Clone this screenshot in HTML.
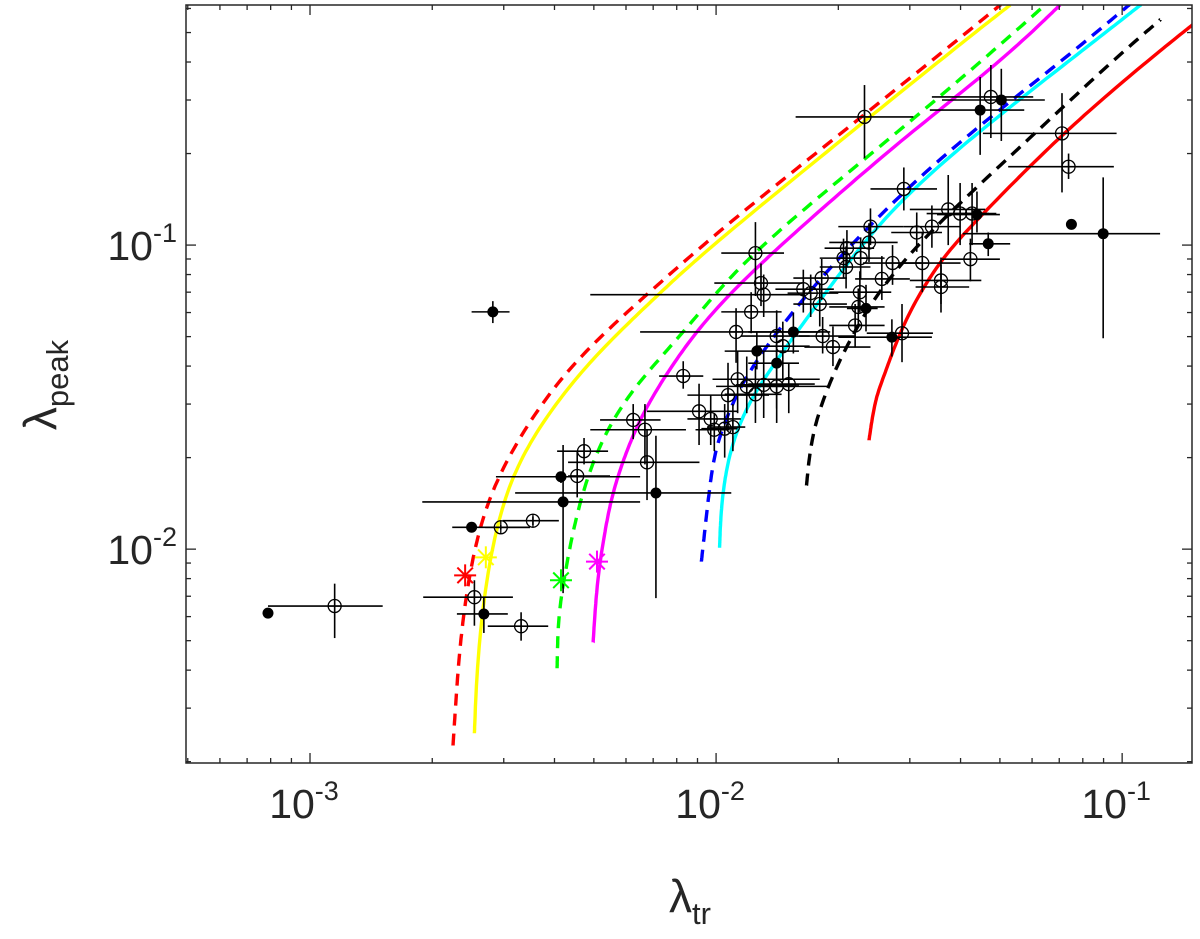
<!DOCTYPE html>
<html><head><meta charset="utf-8"><style>
html,body{margin:0;padding:0;background:#fff;}
svg{display:block;font-family:"Liberation Sans",sans-serif;}
</style></head><body>
<svg id="chart" width="1200" height="939" viewBox="0 0 1200 939" xmlns="http://www.w3.org/2000/svg">
<rect x="0" y="0" width="1200" height="939" fill="#fff"/>
<g id="curves"></g>
<g id="points"></g>
<g id="axes"></g>
<text x="690" y="912" font-size="46" text-anchor="middle" fill="#262626">λ<tspan font-size="31" dy="12">tr</tspan></text>
<text transform="translate(56,385) rotate(-90)" font-size="46" text-anchor="middle" fill="#262626">λ<tspan font-size="31" dy="12">peak</tspan></text>
</svg>
<script>
const xTicks = [0.001, 0.01, 0.1];
const xTickExp = ["-3", "-2", "-1"];
const yTicks = [0.01, 0.1];
const yTickExp = ["-2", "-1"];
const xDomain = [0.000495, 0.1486];
const yDomain = [0.00198, 0.616];

const curveNames = ["red-dashed","yellow-solid","green-dashed","magenta-solid","blue-dashed","cyan-solid","black-dashed","red-solid"];
const curveColors = ["#ff0000","#ffff00","#00ff00","#ff00ff","#0000ff","#00ffff","#000000","#ff0000"];
const curveDashed = [true,false,true,false,true,false,true,false];
const redDashX = [0.00225,0.00232,0.00241,0.00258,0.00294,0.00413,0.0065,0.0091,0.0123,0.0342,0.0501];
const redDashY = [0.00226,0.00431,0.00679,0.0113,0.0186,0.0379,0.0659,0.0977,0.137,0.406,0.616];
const yellowX = [0.00254,0.00258,0.00273,0.0031,0.00406,0.00518,0.00716,0.0091,0.0134,0.0356,0.053];
const yellowY = [0.00248,0.00431,0.00873,0.0178,0.0309,0.0451,0.0683,0.0917,0.141,0.406,0.616];
const greenX = [0.00406,0.00408,0.0042,0.00455,0.00518,0.00625,0.0083,0.011,0.0161,0.0284,0.0454,0.0646];
const greenY = [0.00406,0.00583,0.00773,0.0137,0.0228,0.0341,0.0514,0.0816,0.1285,0.239,0.406,0.616];
const magentaX = [0.00498,0.00509,0.00533,0.00557,0.00614,0.007,0.0091,0.0121,0.0161,0.0284,0.0509,0.0703];
const magentaY = [0.00494,0.0079,0.0116,0.0156,0.0228,0.0326,0.0545,0.0804,0.114,0.221,0.406,0.616];
const blueX = [0.0092,0.00956,0.0099,0.0108,0.0119,0.0161,0.0253,0.0399,0.0716,0.104];
const blueY = [0.0091,0.0145,0.0212,0.0287,0.0379,0.0659,0.127,0.221,0.406,0.616];
const cyanX = [0.0102,0.0103,0.0108,0.0118,0.0131,0.018,0.0264,0.0447,0.0745,0.111];
const cyanY = [0.0101,0.0145,0.0212,0.0287,0.0365,0.0659,0.130,0.239,0.406,0.616];
const blackX = [0.0167,0.0172,0.0194,0.022,0.0253,0.0336,0.0604,0.095,0.124];
const blackY = [0.0162,0.0246,0.0379,0.0525,0.0716,0.112,0.230,0.406,0.550];
const redSolidX = [0.0238,0.0246,0.0258,0.029,0.0356,0.0454,0.0716,0.116,0.149];
const redSolidY = [0.0228,0.0309,0.0365,0.0566,0.0900,0.127,0.235,0.406,0.530];

const starX = [0.00241,0.00271,0.00415,0.00509];
const starY = [0.0082,0.0094,0.0079,0.0091];
const starColors = ["#ff0000","#ffff00","#00ff00","#ff00ff"];

const ptX = [0.000788,0.00115,0.00282,0.00254,0.00268,0.00331,0.0025,0.00295,0.00354,0.0042,0.00415,0.00455,0.00473,0.00711,0.00676,0.00668,0.00625,0.0083,0.00908,0.0097,0.0099,0.0105,0.011,0.0107,0.0113,0.0119,0.0125,0.0131,0.0141,0.0151,0.0112,0.0126,0.0141,0.0141,0.0146,0.0155,0.0122,0.0131,0.0129,0.0125,0.0183,0.0194,0.0164,0.0171,0.018,0.0182,0.0206,0.021,0.0209,0.0227,0.0238,0.024,0.0226,0.022,0.0224,0.0234,0.0256,0.0272,0.0312,0.034,0.029,0.0373,0.0399,0.0427,0.0439,0.0322,0.0358,0.0358,0.0423,0.0468,0.0271,0.0287,0.0232,0.0475,0.0504,0.0447,0.0711,0.0738,0.075,0.0898];
const ptY = [0.00616,0.0065,0.0603,0.00695,0.00612,0.00558,0.0118,0.0118,0.0124,0.0143,0.0173,0.0174,0.021,0.0153,0.0193,0.0247,0.0266,0.0371,0.0284,0.0268,0.0247,0.0249,0.0252,0.0321,0.0362,0.0343,0.0323,0.0347,0.0343,0.0349,0.0518,0.0448,0.0502,0.0409,0.0465,0.0518,0.0603,0.0687,0.075,0.0941,0.0502,0.0462,0.0716,0.0695,0.064,0.0779,0.0906,0.0977,0.0847,0.0906,0.102,0.115,0.070,0.0544,0.0626,0.0619,0.0774,0.0873,0.110,0.115,0.153,0.131,0.127,0.127,0.126,0.0873,0.0765,0.0728,0.0899,0.101,0.0498,0.0513,0.264,0.307,0.300,0.278,0.233,0.181,0.117,0.109];
const ptXLo = [0.000788,0.000788,0.0025,0.0019,0.0023,0.00274,0.00224,0.0027,0.00298,0.00189,0.00287,0.00432,0.00406,0.0032,0.00432,0.0049,0.00518,0.00724,0.00676,0.0085,0.0089,0.0092,0.0095,0.0085,0.0098,0.0100,0.0105,0.0112,0.0118,0.012,0.0065,0.0105,0.0115,0.0120,0.0125,0.012,0.0103,0.0049,0.0099,0.0103,0.016,0.0165,0.014,0.015,0.0155,0.0155,0.018,0.0185,0.018,0.020,0.019,0.020,0.019,0.019,0.019,0.021,0.022,0.023,0.027,0.029,0.024,0.030,0.033,0.036,0.035,0.028,0.030,0.031,0.036,0.042,0.020,0.0235,0.0157,0.034,0.036,0.0336,0.0454,0.0524,0.075,0.0405];
const ptXHi = [0.000788,0.00151,0.0031,0.00316,0.00307,0.00386,0.00348,0.00348,0.0041,0.0065,0.0065,0.00548,0.00542,0.0109,0.0091,0.00843,0.0073,0.0093,0.0113,0.0115,0.0108,0.0113,0.0118,0.0135,0.018,0.0155,0.0145,0.016,0.019,0.0175,0.0191,0.016,0.017,0.016,0.017,0.018,0.0145,0.0165,0.0163,0.0147,0.022,0.024,0.0195,0.02,0.021,0.021,0.024,0.0245,0.024,0.026,0.028,0.029,0.027,0.026,0.026,0.025,0.030,0.032,0.036,0.040,0.035,0.046,0.047,0.049,0.050,0.040,0.045,0.042,0.05,0.053,0.034,0.0342,0.0306,0.0604,0.0645,0.0574,0.0969,0.0954,0.075,0.124];
const ptYLo = [0.00616,0.0051,0.0554,0.0056,0.0053,0.0050,0.0115,0.0116,0.0120,0.00717,0.0165,0.0148,0.0190,0.0069,0.0145,0.019,0.023,0.0337,0.022,0.022,0.021,0.020,0.021,0.025,0.028,0.028,0.026,0.027,0.026,0.028,0.041,0.039,0.041,0.029,0.036,0.044,0.0513,0.058,0.063,0.068,0.044,0.040,0.060,0.058,0.054,0.066,0.078,0.085,0.072,0.077,0.088,0.100,0.060,0.046,0.054,0.052,0.066,0.074,0.095,0.098,0.13,0.10,0.10,0.10,0.11,0.07,0.064,0.06,0.076,0.092,0.043,0.0412,0.193,0.225,0.22,0.198,0.149,0.165,0.117,0.0494];
const ptYHi = [0.00616,0.0077,0.0654,0.0079,0.00695,0.0062,0.0121,0.012,0.0128,0.022,0.018,0.0211,0.0232,0.0236,0.0247,0.030,0.030,0.0415,0.035,0.032,0.028,0.030,0.030,0.041,0.045,0.043,0.040,0.045,0.046,0.041,0.062,0.052,0.061,0.054,0.056,0.060,0.070,0.080,0.087,0.119,0.058,0.054,0.083,0.080,0.075,0.090,0.105,0.112,0.099,0.106,0.118,0.132,0.082,0.064,0.072,0.074,0.092,0.10,0.128,0.135,0.18,0.17,0.16,0.16,0.15,0.11,0.091,0.086,0.105,0.11,0.057,0.064,0.336,0.391,0.38,0.357,0.316,0.20,0.117,0.167];
const ptFilled = [1,0,1,0,1,0,1,0,0,1,1,0,0,1,0,0,0,0,0,0,0,0,0,0,0,0,0,0,0,0,0,1,0,1,0,1,0,0,0,0,0,0,0,0,0,0,0,0,0,0,0,0,0,0,0,1,0,0,0,0,0,0,0,0,1,0,0,0,0,1,1,0,0,0,1,1,0,0,1,1];

const L = 186, R = 1192, T = 5, B = 763;
const lx0 = Math.log10(xDomain[0]), lx1 = Math.log10(xDomain[1]);
const ly0 = Math.log10(yDomain[0]), ly1 = Math.log10(yDomain[1]);
function sx(v){ return L + (Math.log10(v) - lx0) / (lx1 - lx0) * (R - L); }
function sy(v){ return B - (Math.log10(v) - ly0) / (ly1 - ly0) * (B - T); }
const NS = "http://www.w3.org/2000/svg";
function mk(tag, attrs, parent){
  const e = document.createElementNS(NS, tag);
  for (const k in attrs) e.setAttribute(k, attrs[k]);
  parent.appendChild(e);
  return e;
}

const curveXs = [redDashX,yellowX,greenX,magentaX,blueX,cyanX,blackX,redSolidX];
const curveYs = [redDashY,yellowY,greenY,magentaY,blueY,cyanY,blackY,redSolidY];
const gC = document.getElementById("curves");
const clip = mk("clipPath", {id:"plotclip"}, gC);
mk("rect", {x:L, y:T, width:R-L, height:B-T}, clip);
gC.setAttribute("clip-path", "url(#plotclip)");
// clamped uniform cubic B-spline through control points (smooth)
function bsplinePath(xs, ys){
  const p = xs.map((x,i)=>[sx(x), sy(ys[i])]);
  const c = [p[0], p[0]].concat(p).concat([p[p.length-1], p[p.length-1]]);
  const pts = [];
  for (let i = 0; i < c.length - 3; i++){
    for (let k = 0; k < 16; k++){
      const t = k / 16, t2 = t*t, t3 = t2*t;
      const b0 = (1-t)*(1-t)*(1-t)/6, b1 = (3*t3 - 6*t2 + 4)/6, b2 = (-3*t3 + 3*t2 + 3*t + 1)/6, b3 = t3/6;
      pts.push([b0*c[i][0]+b1*c[i+1][0]+b2*c[i+2][0]+b3*c[i+3][0], b0*c[i][1]+b1*c[i+1][1]+b2*c[i+2][1]+b3*c[i+3][1]]);
    }
  }
  pts.push(p[p.length-1]);
  return "M" + pts.map(q => q[0].toFixed(1) + "," + q[1].toFixed(1)).join(" L");
}
for (let c = 0; c < curveXs.length; c++){
  const path = mk("path", {d: bsplinePath(curveXs[c], curveYs[c]), fill:"none", stroke:curveColors[c], "stroke-width":3.4, "stroke-linejoin":"round"}, gC);
  if (curveDashed[c]) path.setAttribute("stroke-dasharray", "12 8");
  
  
}

const gP = document.getElementById("points");
for (let i = 0; i < ptX.length; i++){
  const g = mk("g", {}, gP);
  
  
  const cx = sx(ptX[i]), cy = sy(ptY[i]);
  mk("line", {x1:sx(ptXLo[i]), x2:sx(ptXHi[i]), y1:cy, y2:cy, stroke:"#000", "stroke-width":1.6}, g);
  mk("line", {x1:cx, x2:cx, y1:sy(ptYLo[i]), y2:sy(ptYHi[i]), stroke:"#000", "stroke-width":1.6}, g);
  if (ptFilled[i]) {
    mk("circle", {cx:cx, cy:cy, r:5.5, fill:"#000"}, g);
  } else {
    mk("circle", {cx:cx, cy:cy, r:6.5, fill:"none", stroke:"#000", "stroke-width":1.3}, g);
    mk("line", {x1:cx-7, x2:cx+7, y1:cy, y2:cy, stroke:"#000", "stroke-width":1.3}, g);
    mk("line", {x1:cx, x2:cx, y1:cy-7, y2:cy+7, stroke:"#000", "stroke-width":1.3}, g);
  }
}
for (let i = 0; i < starX.length; i++){
  const g = mk("g", {stroke:starColors[i], "stroke-width":2}, gP);
  
  
  const cx = sx(starX[i]), cy = sy(starY[i]), r = 11;
  for (let k = 0; k < 4; k++){
    const a = k * Math.PI / 4;
    mk("line", {x1:cx - r*Math.cos(a), y1:cy - r*Math.sin(a), x2:cx + r*Math.cos(a), y2:cy + r*Math.sin(a)}, g);
  }
}

const gA = document.getElementById("axes");
mk("rect", {x:L, y:T, width:R-L, height:B-T, fill:"none", stroke:"#262626", "stroke-width":1.5}, gA);
for (let e = -4; e <= 0; e++){
  for (let m = 1; m <= 9; m++){
    const v = m * Math.pow(10, e);
    if (v >= xDomain[0] && v <= xDomain[1]){
      const x = sx(v), len = m === 1 ? 10 : 5;
      mk("line", {x1:x, x2:x, y1:B, y2:B-len, stroke:"#262626", "stroke-width":1.3}, gA);
      mk("line", {x1:x, x2:x, y1:T, y2:T+len, stroke:"#262626", "stroke-width":1.3}, gA);
    }
    if (v >= yDomain[0] && v <= yDomain[1]){
      const y = sy(v), len = m === 1 ? 10 : 5;
      mk("line", {x1:L, x2:L+len, y1:y, y2:y, stroke:"#262626", "stroke-width":1.3}, gA);
      mk("line", {x1:R, x2:R-len, y1:y, y2:y, stroke:"#262626", "stroke-width":1.3}, gA);
    }
  }
}
for (let i = 0; i < xTicks.length; i++){
  const t = mk("text", {x:sx(xTicks[i]) - 6, y:818, "font-size":41, "text-anchor":"middle", fill:"#262626"}, gA);
  
  
  t.textContent = "10";
  const s = mk("tspan", {"font-size":27, dy:-18}, t);
  s.textContent = xTickExp[i];
}
for (let i = 0; i < yTicks.length; i++){
  const t = mk("text", {x:177, y:sy(yTicks[i]) + 15, "font-size":41, "text-anchor":"end", fill:"#262626"}, gA);
  
  
  t.textContent = "10";
  const s = mk("tspan", {"font-size":27, dy:-18}, t);
  s.textContent = yTickExp[i];
}
</script>
</body></html>
